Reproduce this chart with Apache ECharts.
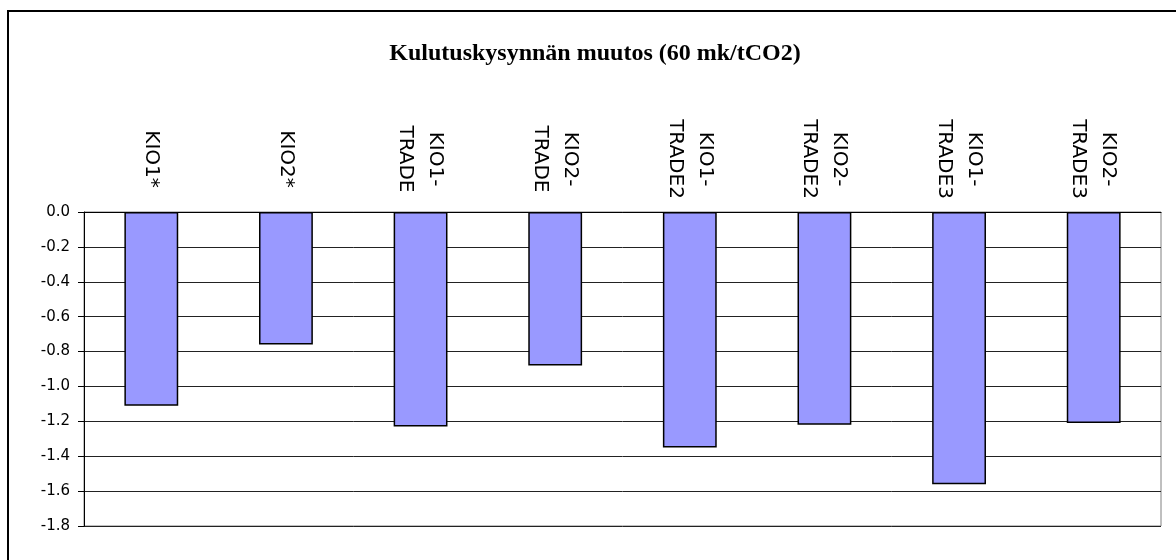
<!DOCTYPE html>
<html lang="fi">
<head>
    <meta charset="UTF-8">
    <title>Kulutuskysynnän muutos</title>
    <script src="https://cdn.jsdelivr.net/npm/echarts@6/dist/echarts.min.js"></script>
    <style>
        html, body { margin: 0; padding: 0; background: #fff; }
    </style>
</head>
<body>
<div id="main" style="width: 1176px;height:560px;"></div>
<script type="text/javascript">
    // kategoriat (rivinvaihto kuten alkuperäisessä)
    var categories = ['KIO1*', 'KIO2*', 'KIO1-\nTRADE', 'KIO2-\nTRADE', 'KIO1-\nTRADE2', 'KIO2-\nTRADE2', 'KIO1-\nTRADE3', 'KIO2-\nTRADE3'];
    // muutos, %
    var values = [-1.11, -0.76, -1.23, -0.88, -1.35, -1.22, -1.56, -1.21];
    // y-akselin asteikko
    var yMin = -1.8;
    var yMax = 0;
    var yStep = 0.2;

    var myChart = echarts.init(document.getElementById('main'));
    myChart.setOption({
        animation: false,
        title: {
            text: 'Kulutuskysynnän muutos (60 mk/tCO2)',
            left: 590,
            top: 37,
            textAlign: 'center',
            textStyle: {
                fontFamily: 'Liberation Serif',
                fontWeight: 'bold',
                fontSize: 24,
                color: '#000'
            }
        },
        // ulkoreunus
        graphic: [{
            type: 'rect',
            shape: { x: 8, y: 11, width: 1400, height: 800 },
            style: { fill: 'none', stroke: '#000', lineWidth: 2 },
            silent: true
        }],
        grid: {
            left: 84,
            top: 212,
            right: 15,
            bottom: 34,
            show: true,
            borderColor: '#808080',
            borderWidth: 1
        },
        xAxis: {
            type: 'category',
            position: 'top',
            data: categories,
            axisLine: { lineStyle: { color: '#000', width: 1 } },
            axisTick: { inside: true, length: 8, lineStyle: { color: '#000' } },
            axisLabel: {
                rotate: -90,
                align: 'center',
                verticalAlign: 'middle',
                margin: 53,
                lineHeight: 30,
                fontFamily: 'DejaVu Sans',
                fontSize: 20,
                color: '#000',
                interval: 0
            }
        },
        yAxis: {
            type: 'value',
            min: yMin,
            max: yMax,
            interval: yStep,
            axisLine: { show: true, lineStyle: { color: '#000', width: 1 } },
            axisTick: { show: true, length: 6, lineStyle: { color: '#000' } },
            splitLine: { lineStyle: { color: '#222', width: 1 } },
            axisLabel: {
                margin: 14,
                fontFamily: 'DejaVu Sans',
                fontSize: 15,
                color: '#000',
                formatter: function (v) { return v.toFixed(1); }
            }
        },
        series: [{
            name: 'muutos',
            type: 'bar',
            data: values,
            barCategoryGap: '60%',
            itemStyle: {
                color: '#9999FF',
                borderColor: '#000',
                borderWidth: 1.5
            }
        }]
    });
</script>
</body>
</html>
